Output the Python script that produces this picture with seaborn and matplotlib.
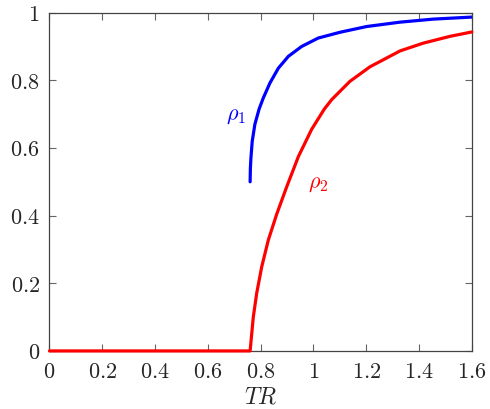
import matplotlib
matplotlib.use("Agg")
import matplotlib.pyplot as plt
import seaborn as sns
import pandas as pd
from matplotlib.ticker import FuncFormatter

# values
rho1_tr = [0.760, 0.761, 0.763, 0.768, 0.778, 0.794, 0.810, 0.835, 0.867, 0.905, 0.955,
           1.018, 1.100, 1.201, 1.328, 1.454, 1.600]
rho1_val = [0.500, 0.540, 0.570, 0.620, 0.670, 0.715, 0.748, 0.792, 0.836, 0.871, 0.900,
            0.925, 0.942, 0.959, 0.972, 0.981, 0.987]

rho2_tr = [0.0, 0.760, 0.772, 0.785, 0.804, 0.829, 0.861, 0.898, 0.943, 0.993, 1.041,
           1.069, 1.138, 1.214, 1.328, 1.416, 1.517, 1.600]
rho2_val = [0.0, 0.0, 0.100, 0.171, 0.249, 0.328, 0.405, 0.484, 0.575, 0.655, 0.715,
            0.743, 0.797, 0.840, 0.887, 0.910, 0.930, 0.943]

x_ticks = [0, 0.2, 0.4, 0.6, 0.8, 1, 1.2, 1.4, 1.6]
y_ticks = [0, 0.2, 0.4, 0.6, 0.8, 1]

sns.set_style("ticks")
plt.rcParams["mathtext.fontset"] = "cm"
plt.rcParams["font.family"] = ["DejaVu Serif"]
plt.rcParams["lines.solid_joinstyle"] = "round"

df1 = pd.DataFrame({"TR": rho1_tr, "rho": rho1_val})
df2 = pd.DataFrame({"TR": rho2_tr, "rho": rho2_val})

fig = plt.figure(figsize=(4.9, 4.09), dpi=100)
ax = fig.add_axes([0.101, 0.142, 0.862, 0.827])

# curves: rho_1 blue, rho_2 red (red sits on the bottom spine, so no clipping)
sns.lineplot(data=df1, x="TR", y="rho", color="blue", lw=2.3, sort=False, estimator=None, ax=ax)
sns.lineplot(data=df2, x="TR", y="rho", color="red", lw=2.3, sort=False, estimator=None, ax=ax,
             clip_on=False, zorder=5)

ax.set_xlim(0, 1.6)
ax.set_ylim(0, 1)
ax.set_xticks(x_ticks)
ax.set_yticks(y_ticks)
fmt = FuncFormatter(lambda v, p: r"$%g$" % round(v, 2))
ax.xaxis.set_major_formatter(fmt)
ax.yaxis.set_major_formatter(fmt)
ax.tick_params(direction="in", length=5, width=0.8, color="#666666", labelsize=16,
               top=True, right=True, pad=7)
for s in ax.spines.values():
    s.set_color("#444444")
    s.set_linewidth(0.9)

ax.set_xlabel(r"$TR$", fontsize=17, labelpad=2)
ax.set_ylabel("")

ax.text(0.706, 0.698, r"$\rho_1$", color="blue", fontsize=16, ha="center", va="center")
ax.text(1.017, 0.497, r"$\rho_2$", color="red", fontsize=16, ha="center", va="center")

fig.savefig("out.png", dpi=100)
